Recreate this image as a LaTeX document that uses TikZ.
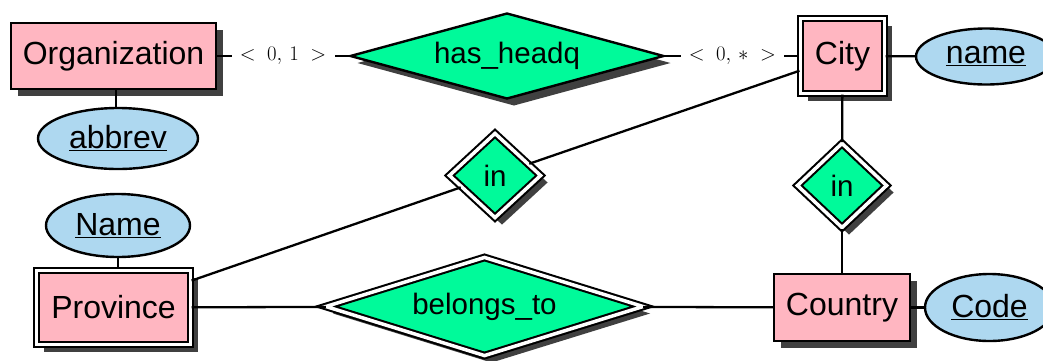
\documentclass[tikz,border=0pt]{standalone}
\usepackage{fontspec}
\setmainfont{Liberation Sans}
\usetikzlibrary{shapes.geometric,shadows}
\definecolor{entpink}{RGB}{255,182,193}
\definecolor{relgreen}{RGB}{0,250,154}
\definecolor{attblue}{RGB}{174,216,240}
\definecolor{shadowgray}{RGB}{64,64,64}
\tikzset{
  erbase/.style={draw=black, line width=2.4pt, inner sep=0pt},
  shade7/.style={drop shadow={shadow xshift=7pt, shadow yshift=-7pt, fill=shadowgray, opacity=1}},
  entity/.style={erbase, rectangle, fill=entpink, shade7, font=\fontsize{32}{38}\selectfont},
  weakentity/.style={entity, double=white, double distance=3.5pt, line width=2.1pt},
  relation/.style={erbase, diamond, fill=relgreen, shade7, font=\fontsize{29.5}{35}\selectfont},
  weakrel/.style={relation, double=white, double distance=3.5pt, line width=2.1pt},
  attrib/.style={erbase, ellipse, fill=attblue, font=\fontsize{32}{38}\selectfont},
  conn/.style={line width=2.3pt},
  card/.style={fill=white, inner sep=0pt, minimum width=103pt, minimum height=20pt, font=\fontsize{20}{22}\selectfont}
}
\begin{document}
\begin{tikzpicture}[x=1pt,y=-1pt]
\useasboundingbox (0,0) rectangle (1043,360);
\begin{scope}
\clip (0,0) rectangle (1043,360);
% attributes
\node[attrib, minimum width=160pt, minimum height=61pt] (abbrev) at (118,138.5) {\underline{abbrev}};
\node[attrib, minimum width=144pt, minimum height=63pt] (Name) at (118,225.5) {\underline{Name}};
\node[attrib, minimum width=140pt, minimum height=56pt] (cname) at (986,56.5) {\underline{name}};
\node[attrib, minimum width=129pt, minimum height=67pt] (code) at (989.5,307.5) {\underline{Code}};

% entities
\node[entity, minimum width=205pt, minimum height=66pt] (org) at (113.5,56) {Organization};
\node[weakentity, minimum width=84pt, minimum height=75pt] (city) at (842.5,56) {City};
\node[weakentity, minimum width=154pt, minimum height=74pt] (prov) at (113.5,307.5) {Province};
\node[entity, minimum width=136pt, minimum height=67pt] (country) at (842,307.5) {Country};

% relationships
\node[relation, aspect=3.65, minimum width=314pt, minimum height=86pt] (hq) at (507,56) {has\_headq};
\node[weakrel, aspect=1.08, minimum width=92pt, minimum height=85pt] (in1) at (495,175.5) {in};
\node[weakrel, aspect=1.06, minimum width=90pt, minimum height=85pt] (in2) at (842,185.5) {in};
\node[weakrel, aspect=3.2, minimum width=318pt, minimum height=99pt] (bel) at (484.5,306.5) {belongs\_to};

% connectors
\draw[conn] (org.south) ++(2.5,0) coordinate (orgs) -- (orgs |- abbrev.north);
\draw[conn] (Name.south) -- (Name.south |- prov.north);
\draw[conn] (city) -- (cname);
\draw[conn] (country) -- (code);
\draw[conn] (city) -- (in2);
\draw[conn] (in2) -- (country);
\draw[conn] (prov) -- (in1);
\draw[conn] (in1) -- (city);
\draw[conn] (prov) -- (bel);
\draw[conn] (bel) -- (country);
\draw[conn] (org) -- node[card] (c1) {$<\;0,\,1\;>$} (hq);
\draw[conn] (hq) -- node[card] (c2) {$<\;0,\,*\;>$} (city);
\end{scope}
\end{tikzpicture}
\end{document}
